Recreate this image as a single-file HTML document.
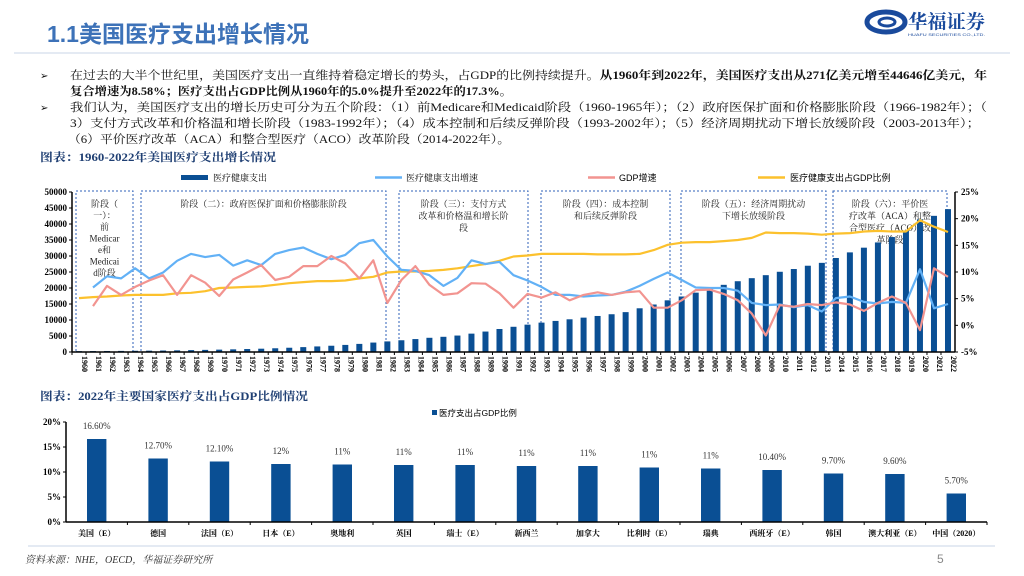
<!DOCTYPE html>
<html><head><meta charset="utf-8"><style>
html,body{margin:0;padding:0;background:#fff;}
svg{display:block;font-family:"Liberation Serif","Noto Serif CJK SC",serif;}
</style></head><body>
<svg id="pg" width="1024" height="576" viewBox="0 0 1024 576" xmlns="http://www.w3.org/2000/svg">
<text x="47" y="42" font-family="Liberation Sans,Noto Sans CJK SC,sans-serif" font-weight="bold" font-size="23" fill="#3d72b8" textLength="262" lengthAdjust="spacingAndGlyphs">1.1美国医疗支出增长情况</text>
<g>
<ellipse cx="886" cy="22" rx="19" ry="10" fill="none" stroke="#1a4a9c" stroke-width="5"/>
<ellipse cx="887" cy="22" rx="8" ry="4" fill="none" stroke="#1a4a9c" stroke-width="3"/>
<text x="908" y="28" font-family="Noto Serif CJK SC,serif" font-weight="bold" font-size="19" fill="#1a4a9c" textLength="77" lengthAdjust="spacingAndGlyphs">华福证券</text>
<text x="908" y="36" font-family="Liberation Sans,sans-serif" font-size="4" fill="#1a4a9c" textLength="77" lengthAdjust="spacingAndGlyphs">HUAFU SECURITIES CO.,LTD.</text>
</g>
<line x1="14" y1="53" x2="1010" y2="53" stroke="#dbe3ef" stroke-width="1.5"/>
<g font-size="11.5" fill="#111">
<text x="40" y="79" font-size="10">➢</text>
<text x="70" y="79" textLength="917" lengthAdjust="spacingAndGlyphs">在过去的大半个世纪里，美国医疗支出一直维持着稳定增长的势头，占GDP的比例持续提升。<tspan font-weight="bold">从1960年到2022年，美国医疗支出从271亿美元增至44646亿美元，年</tspan></text>
<text x="70" y="95" font-weight="bold" textLength="442" lengthAdjust="spacingAndGlyphs">复合增速为8.58%；医疗支出占GDP比例从1960年的5.0%提升至2022年的17.3%。</text>
<text x="40" y="111" font-size="10">➢</text>
<text x="70" y="111" textLength="917" lengthAdjust="spacingAndGlyphs">我们认为，美国医疗支出的增长历史可分为五个阶段：（1）前Medicare和Medicaid阶段（1960-1965年）；（2）政府医保扩面和价格膨胀阶段（1966-1982年）；（</text>
<text x="70" y="127" textLength="910" lengthAdjust="spacingAndGlyphs">3）支付方式改革和价格温和增长阶段（1983-1992年）；（4）成本控制和后续反弹阶段（1993-2002年）；（5）经济周期扰动下增长放缓阶段（2003-2013年）；</text>
<text x="68" y="143" textLength="442" lengthAdjust="spacingAndGlyphs">（6）平价医疗改革（ACA）和整合型医疗（ACO）改革阶段（2014-2022年）。</text>
</g>
<text x="40" y="161" font-size="11.5" font-weight="bold" fill="#1f3f73" textLength="236" lengthAdjust="spacingAndGlyphs">图表：1960-2022年美国医疗支出增长情况</text>
<g id="c1"></g>
<text x="40" y="400" font-size="11.5" font-weight="bold" fill="#1f3f73" textLength="268" lengthAdjust="spacingAndGlyphs">图表：2022年主要国家医疗支出占GDP比例情况</text>
<g id="c2"></g>
<line x1="28" y1="546" x2="995" y2="546" stroke="#dbe3ef" stroke-width="1.5"/>
<text x="25" y="563" font-size="10" font-style="italic" fill="#333">资料来源：NHE，OECD，华福证券研究所</text>
<text x="937" y="563" font-family="Liberation Sans,sans-serif" font-size="12" fill="#888">5</text>
</svg>
<script>
const years=[];for(let y=1960;y<=2022;y++)years.push(String(y));
const spending=[271,292,318,345,382,419,459,520,588,664,741,830,932,1032,1165,1332,1526,1741,1957,2215,2533,2948,3310,3670,4040,4440,4750,5140,5740,6390,7190,7880,8550,9180,9710,10220,10740,11260,11800,12460,13660,14840,16150,17340,18550,19760,20990,22120,23070,24010,25070,25930,26960,27860,29380,31130,32600,34240,35920,37960,41440,42550,44646];
const spendGrowth=[null,7.1,9.2,8.8,10.7,8.8,9.9,12.1,13.4,12.8,13.2,11.2,12.2,11.3,13.4,14.1,14.6,13.4,12.4,13.2,15.4,16.0,12.9,10.4,10.2,9.4,7.4,8.9,12.2,11.5,11.9,9.4,8.4,7.2,5.7,5.7,5.4,5.6,5.7,6.3,7.4,8.7,9.9,8.5,7.1,7.0,7.0,6.5,4.2,3.8,3.9,3.4,3.8,2.6,5.1,5.4,4.4,4.1,4.4,4.2,10.5,3.2,4.0];
const gdpGrowth=[null,3.6,7.4,5.7,7.2,8.4,9.4,5.7,9.4,8.0,5.5,8.6,9.9,11.3,8.5,9.1,11.1,11.1,13.0,11.6,8.8,12.2,4.2,8.5,11.1,7.6,5.7,6.0,7.9,7.8,6.0,3.3,5.9,5.2,6.2,4.7,5.7,6.2,5.7,6.2,6.4,3.3,3.3,4.7,6.6,6.7,5.9,4.7,2.2,-1.9,3.8,3.5,4.0,3.8,4.3,3.9,2.7,4.2,5.4,4.2,-0.9,10.7,9.1];
const gdpShare=[5.1,5.3,5.4,5.6,5.7,5.7,5.7,6.0,6.1,6.4,7.0,7.1,7.2,7.3,7.6,7.9,8.1,8.3,8.3,8.4,8.8,9.1,9.9,10.1,10.1,10.2,10.4,10.7,11.1,11.5,12.1,12.9,13.1,13.4,13.4,13.4,13.4,13.3,13.3,13.3,13.4,14.1,15.1,15.5,15.6,15.6,15.8,16.0,16.4,17.4,17.3,17.3,17.2,17.0,17.2,17.3,17.6,17.7,17.6,17.6,19.7,18.5,17.5];
const leftTicks=[0,5000,10000,15000,20000,25000,30000,35000,40000,45000,50000];
const rightTicks=[-5,0,5,10,15,20,25];
const countries=["美国（E）","德国","法国（E）","日本（E）","奥地利","英国","瑞士（E）","新西兰","加拿大","比利时（E）","瑞典","西班牙（E）","韩国","澳大利亚（E）","中国（2020）"];
const shares=[16.6,12.7,12.1,11.6,11.5,11.4,11.4,11.2,11.2,10.9,10.7,10.4,9.7,9.6,5.7];
const shareLabels=["16.60%","12.70%","12.10%","12%","11%","11%","11%","11%","11%","11%","11%","10.40%","9.70%","9.60%","5.70%"];
const shareTicks=[0,5,10,15,20];
const NS="http://www.w3.org/2000/svg";
function mk(p,t,a,txt){const e=document.createElementNS(NS,t);for(const k in a)e.setAttribute(k,a[k]);if(txt!=null)e.textContent=txt;p.appendChild(e);return e;}
const c1=document.getElementById('c1');
const L=72,R=955,T=192,B=352;
const band=(R-L)/years.length;
const xc=i=>L+band*(i+0.5);
const yl=v=>B-(v/50000)*(B-T);
const yr=v=>B-((v+5)/30)*(B-T);
const boxes=[[76,133],[141,386],[399,528],[541,670],[681,826],[833,947]];
const boxText=[["阶段（","一）：","前","Medicar","e和","Medicai","d阶段"],["阶段（二）：政府医保扩面和价格膨胀阶段"],["阶段（三）：支付方式","改革和价格温和增长阶","段"],["阶段（四）：成本控制","和后续反弹阶段"],["阶段（五）：经济周期扰动","下增长放缓阶段"],["阶段（六）：平价医","疗改革（ACA）和整","合型医疗（ACO）改","革阶段"]];
boxes.forEach((b,i)=>{
 const r=mk(c1,'rect',{x:b[0],y:191,width:b[1]-b[0],height:161,fill:'none',stroke:'#2f62b8','stroke-width':1,'stroke-dasharray':'2,2'});
 
 
 boxText[i].forEach((s,j)=>{const t=mk(c1,'text',{x:(b[0]+b[1])/2,y:207+j*(i==0?11.5:12),'font-size':9,'text-anchor':'middle',fill:'#222'},s);
 
 });
});
spending.forEach((v,i)=>{const r=mk(c1,'rect',{x:xc(i)-3,y:yl(v),width:6,height:B-yl(v),fill:'#0a4f94'});

});
mk(c1,'line',{x1:L,y1:T,x2:L,y2:B,stroke:'#000','stroke-width':1.5});
mk(c1,'line',{x1:R,y1:T,x2:R,y2:B,stroke:'#000','stroke-width':1.5});
mk(c1,'line',{x1:L,y1:B,x2:R,y2:B,stroke:'#000','stroke-width':1.5});
leftTicks.forEach(v=>{mk(c1,'line',{x1:L-3,y1:yl(v),x2:L,y2:yl(v),stroke:'#000'});
const t=mk(c1,'text',{x:L-5,y:yl(v)+3,'font-size':9,'font-weight':'bold','text-anchor':'end'},String(v));

});
rightTicks.forEach(v=>{mk(c1,'line',{x1:R,y1:yr(v),x2:R+3,y2:yr(v),stroke:'#000'});
const t=mk(c1,'text',{x:R+6,y:yr(v)+3,'font-size':9,'font-weight':'bold'},v+'%');

});
years.forEach((y,i)=>{mk(c1,'line',{x1:L+band*i,y1:B,x2:L+band*i,y2:B+3,stroke:'#000'});
const t=mk(c1,'text',{x:xc(i)+3,y:B+4,'font-size':8,'font-weight':'bold',transform:`rotate(90 ${xc(i)+3} ${B+4})`},y);

});
function line(data,col,name){let d='';data.forEach((v,i)=>{if(v==null)return;d+=(d?'L':'M')+xc(i).toFixed(1)+','+yr(v).toFixed(1);});
const p=mk(c1,'path',{d:d,fill:'none',stroke:col,'stroke-width':2.2,'stroke-linejoin':'round'});

}
line(gdpShare,'#fcc12d','gdp-share-line');
line(spendGrowth,'#62b1f6','spending-growth-line');
line(gdpGrowth,'#f29490','gdp-growth-line');
const lg=mk(c1,'g',{});


mk(lg,'rect',{x:181,y:175,width:27,height:5,fill:'#0a4f94'});
mk(lg,'text',{x:213,y:181,'font-size':9},'医疗健康支出');
mk(lg,'line',{x1:375,y1:177.5,x2:402,y2:177.5,stroke:'#62b1f6','stroke-width':2.5});
mk(lg,'text',{x:406,y:181,'font-size':9},'医疗健康支出增速');
mk(lg,'line',{x1:588,y1:177.5,x2:615,y2:177.5,stroke:'#f29490','stroke-width':2.5});
mk(lg,'text',{x:619,y:181,'font-size':9,'font-family':'Liberation Sans,Noto Sans CJK SC,sans-serif'},'GDP增速');
mk(lg,'line',{x1:758,y1:177.5,x2:785,y2:177.5,stroke:'#fcc12d','stroke-width':2.5});
mk(lg,'text',{x:790,y:181,'font-size':9,'font-family':'Liberation Sans,Noto Sans CJK SC,sans-serif'},'医疗健康支出占GDP比例');
const c2=document.getElementById('c2');
const L2=66,R2=987,T2=422,B2=522;
const band2=(R2-L2)/countries.length;
const x2=i=>L2+band2*(i+0.5);
const y2=v=>B2-(v/20)*(B2-T2);
shares.forEach((v,i)=>{const r=mk(c2,'rect',{x:x2(i)-9.7,y:y2(v),width:19.4,height:B2-y2(v),fill:'#0a4f94'});


const t=mk(c2,'text',{x:x2(i),y:y2(v)-10,'font-size':9,'text-anchor':'middle',fill:'#333'},shareLabels[i]);


const c=mk(c2,'text',{x:x2(i),y:536,'font-size':8,'font-weight':'bold','text-anchor':'middle'},countries[i]);


mk(c2,'line',{x1:L2+band2*(i+1),y1:B2,x2:L2+band2*(i+1),y2:B2+3,stroke:'#000'});});
mk(c2,'line',{x1:L2,y1:T2,x2:L2,y2:B2,stroke:'#000','stroke-width':1.5});
mk(c2,'line',{x1:L2,y1:B2,x2:R2,y2:B2,stroke:'#000','stroke-width':1.5});
shareTicks.forEach(v=>{mk(c2,'line',{x1:L2-3,y1:y2(v),x2:L2,y2:y2(v),stroke:'#000'});
const t=mk(c2,'text',{x:L2-5,y:y2(v)+3,'font-size':9,'font-weight':'bold','text-anchor':'end'},v+'%');

});
const lg2=mk(c2,'g',{});


mk(lg2,'rect',{x:432,y:410,width:5,height:5,fill:'#0a4f94'});
mk(lg2,'text',{x:439,y:416,'font-size':8.5,'font-family':'Liberation Sans,Noto Sans CJK SC,sans-serif'},'医疗支出占GDP比例');
</script>
</body></html>
